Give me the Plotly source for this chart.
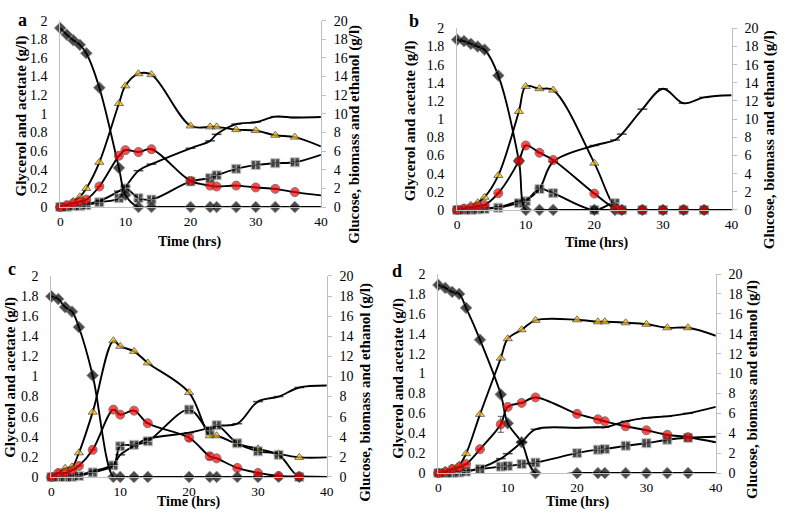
import plotly.graph_objects as go

# ---------------- data ----------------
time_hrs = [0, 1, 2, 3, 4, 6, 9, 10, 12, 14, 20, 23, 24, 27, 30, 33, 36, 40]

# right axis series (g/l): glucose, ethanol, biomass ; left axis series (g/l): glycerol, acetate
glucose_a = [19.2, 18.5, 17.9, 17.4, 16.5, 12.8, 4.2, 1.3, 0, 0, 0, 0, 0, 0, 0, 0, 0, 0]
ethanol_a = [0, 0.2, 0.6, 1.1, 2.0, 4.8, 11.1, 13.0, 14.3, 14.2, 8.7, 8.6, 8.6, 8.3, 8.2, 7.7, 7.5, 6.5]
biomass_a = [0, 0.05, 0.1, 0.2, 0.3, 0.65, 1.7, 2.2, 3.9, 4.6, 6.3, 7.1, 7.8, 8.9, 9.1, 9.7, 9.6, 9.65]
glycerol_a = [0, 0.02, 0.04, 0.06, 0.08, 0.22, 0.55, 0.61, 0.59, 0.62, 0.28, 0.23, 0.22, 0.23, 0.21, 0.195, 0.16, 0.125]
acetate_a = [0, 0, 0.01, 0.01, 0.02, 0.05, 0.095, 0.2, 0.095, 0.08, 0.275, 0.31, 0.34, 0.41, 0.45, 0.47, 0.48, 0.56]
glycerol_err_a = [0] * 18

glucose_b = [18.75, 18.6, 18.3, 18.0, 17.65, 14.8, 5.4, 0, 0, 0, 0, 0, 0, 0, 0, 0, 0, 0]
ethanol_b = [0, 0.2, 0.5, 0.8, 1.4, 3.8, 10.85, 13.6, 13.35, 13.2, 5.15, 0.3, 0, 0, 0, 0, 0, 0]
biomass_b = [0, 0, 0.05, 0.1, 0.2, 0.3, 0.95, 1.07, 2.35, 5.3, 7.1, 7.7, 8.35, 11.1, 13.35, 11.75, 12.4, 12.63]
glycerol_b = [0, 0.015, 0.025, 0.04, 0.055, 0.185, 0.54, 0.71, 0.63, 0.55, 0.18, 0.015, 0, 0, 0, 0, 0, 0]
acetate_b = [0, 0, 0, 0.005, 0.01, 0.025, 0.075, 0.095, 0.23, 0.185, 0, 0.075, 0, 0, 0, 0, 0, 0]
glycerol_err_b = [0] * 18

glucose_c = [17.97, 17.7, 16.9, 16.45, 14.9, 10.1, 0, 0, 0, 0, 0, 0, 0, 0, 0, 0, 0, 0]
ethanol_c = [0, 0.4, 0.87, 1.0, 2.4, 6.45, 13.55, 13.0, 12.5, 11.35, 8.4, 4.1, 4.1, 3.3, 2.8, 2.3, 1.95, 1.95]
biomass_c = [0, 0, 0.05, 0.1, 0.2, 0.55, 1.25, 2.2, 3.1, 3.8, 4.4, 4.9, 5.1, 5.3, 7.5, 8.0, 8.9, 9.1]
glycerol_c = [0, 0.04, 0.04, 0.065, 0.11, 0.27, 0.67, 0.62, 0.66, 0.535, 0.39, 0.205, 0.185, 0.09, 0.04, 0.01, 0.005, 0]
acetate_c = [0, 0, 0, 0, 0.01, 0.045, 0.115, 0.305, 0.32, 0.355, 0.67, 0.46, 0.515, 0.335, 0.255, 0.22, 0, 0]
glycerol_err_c = [0, 0, 0, 0, 0, 0, 0, 0, 0, 0, 0.03, 0.03, 0, 0, 0, 0, 0, 0]

glucose_d = [18.9, 18.6, 18.2, 18.0, 16.6, 13.4, 7.9, 5.0, 3.1, 0, 0, 0, 0, 0, 0, 0, 0, 0]
ethanol_d = [0, 0.3, 0.5, 0.8, 1.95, 5.9, 11.55, 13.5, 14.4, 15.35, 15.4, 15.2, 15.2, 15.1, 14.95, 14.6, 14.6, 13.8]
biomass_d = [0, 0, 0.05, 0.1, 0.2, 0.5, 1.45, 1.95, 3.1, 4.4, 4.55, 4.6, 4.6, 5.2, 5.55, 5.7, 6.0, 6.65]
glycerol_d = [0, 0.01, 0.04, 0.06, 0.09, 0.24, 0.49, 0.665, 0.705, 0.76, 0.595, 0.54, 0.52, 0.47, 0.43, 0.385, 0.36, 0.31]
acetate_d = [0, 0, 0, 0.005, 0.015, 0.04, 0.065, 0.07, 0.09, 0.105, 0.2, 0.235, 0.24, 0.275, 0.30, 0.335, 0.355, 0.365]
glycerol_err_d = [0, 0, 0, 0, 0, 0, 0.08, 0, 0, 0, 0, 0, 0, 0, 0, 0, 0, 0]

panel_labels = ["a", "b", "c", "d"]
x_title = "Time (hrs)"
left_title = "Glycerol and acetate (g/l)"
right_title = "Glucose, biomass and ethanol (g/l)"
x_ticks = [0, 10, 20, 30, 40]
left_range = [0, 2]
right_range = [0, 20]

datasets = [
    (glucose_a, ethanol_a, biomass_a, glycerol_a, acetate_a, glycerol_err_a),
    (glucose_b, ethanol_b, biomass_b, glycerol_b, acetate_b, glycerol_err_b),
    (glucose_c, ethanol_c, biomass_c, glycerol_c, acetate_c, glycerol_err_c),
    (glucose_d, ethanol_d, biomass_d, glycerol_d, acetate_d, glycerol_err_d),
]

# ---------------- layout geometry (pixels) ----------------
W, H = 785, 517
geom = [
    dict(dx=(58, 322), dy=(14, 206), lab=(20, 13), lt=(19, 112), rt=(356, 131), xt=(189, 242)),
    dict(dx=(460, 738), dy=(22, 209), lab=(416, 14), lt=(413, 117), rt=(776, 137), xt=(601, 243)),
    dict(dx=(49, 328), dy=(277, 484), lab=(9, 270), lt=(8, 381), rt=(367, 397), xt=(188, 510)),
    dict(dx=(441, 722), dy=(275, 480), lab=(399, 272), lt=(401, 382), rt=(759, 394), xt=(582, 510)),
]

def fx(p):
    return p / W

def fy(p):
    return 1 - p / H

FONT = "Liberation Serif"
AXIS_GRAY = "#bfbfbf"
scale = (left_range[1] - left_range[0]) / (right_range[1] - right_range[0])

fig = go.Figure()
layout = dict(
    width=W, height=H, margin=dict(l=0, r=0, t=0, b=0, pad=0),
    paper_bgcolor="white", plot_bgcolor="white", showlegend=False,
    font=dict(family=FONT, color="black", size=13),
)
annotations = []

n = len(time_hrs)

def sized(s):
    return [s] * (n - 1) + [0]

def right_to_left(vals):
    return [v * scale for v in vals]

for i, (g, e, bm, gl, ac, gerr) in enumerate(datasets):
    xa = "x" if i == 0 else f"x{i + 1}"
    yl = f"y{2 * i + 1}" if i > 0 else "y"
    yr = f"y{2 * i + 2}"
    line = dict(color="black", width=1.9, shape="spline", smoothing=1)

    # biomass (dash markers)
    fig.add_trace(go.Scatter(x=time_hrs, y=right_to_left(bm), xaxis=xa, yaxis=yl, mode="lines+markers",
                             line=line, cliponaxis=False,
                             marker=dict(symbol="line-ew", size=sized(7),
                                         line=dict(color="black", width=1.5))))
    # ethanol (yellow triangles)
    fig.add_trace(go.Scatter(x=time_hrs, y=right_to_left(e), xaxis=xa, yaxis=yl, mode="lines+markers",
                             line=line, cliponaxis=False,
                             marker=dict(symbol="triangle-up", size=sized(8), color="#FFC000",
                                         line=dict(color="#333333", width=1))))
    # acetate (squares with cross)
    fig.add_trace(go.Scatter(x=time_hrs, y=ac, xaxis=xa, yaxis=yl, mode="lines+markers",
                             line=line, cliponaxis=False,
                             marker=dict(symbol="square-cross", size=sized(9), color="#000000",
                                         line=dict(color="#a6a6a6", width=1))))
    # glucose (black diamonds)
    fig.add_trace(go.Scatter(x=time_hrs, y=right_to_left(g), xaxis=xa, yaxis=yl, mode="lines+markers",
                             line=line, cliponaxis=False,
                             marker=dict(symbol="diamond", size=sized(9), color="black",
                                         line=dict(color="#666666", width=1))))
    # glycerol (red circles)
    fig.add_trace(go.Scatter(x=time_hrs, y=gl, xaxis=xa, yaxis=yl, mode="lines+markers",
                             line=line, cliponaxis=False,
                             error_y=dict(type="data", array=gerr, visible=True, color="#595959",
                                          thickness=1, width=3),
                             marker=dict(symbol="circle", size=sized(9), color="#FF0000",
                                         line=dict(color="#404040", width=1))))
    # empty trace so the right axis is realised
    fig.add_trace(go.Scatter(x=[None], y=[None], xaxis=xa, yaxis=yr, mode="markers",
                             hoverinfo="skip"))

    gm = geom[i]
    xkey = "xaxis" if i == 0 else f"xaxis{i + 1}"
    ylkey = "yaxis" if i == 0 else f"yaxis{2 * i + 1}"
    yrkey = f"yaxis{2 * i + 2}"
    layout[xkey] = dict(domain=[fx(gm["dx"][0]), fx(gm["dx"][1])], anchor=yl, range=[0, 40],
                        tickvals=x_ticks, showgrid=False, zeroline=False, showline=True,
                        linecolor=AXIS_GRAY, linewidth=1, ticks="", ticklabelstandoff=2,
                        tickfont=dict(size=13.5, family=FONT))
    layout[ylkey] = dict(domain=[fy(gm["dy"][1]), fy(gm["dy"][0])], anchor=xa, range=left_range,
                         dtick=0.2, showgrid=False, zeroline=False, showline=True,
                         linecolor=AXIS_GRAY, linewidth=1, ticks="", ticklabelstandoff=9,
                         tickfont=dict(size=14, family=FONT))
    layout[yrkey] = dict(overlaying=yl, anchor=xa, side="right", range=right_range, dtick=2,
                         showgrid=False, zeroline=False, showline=True, linecolor=AXIS_GRAY,
                         linewidth=1, ticks="outside", ticklen=4, tickcolor=AXIS_GRAY,
                         ticklabelstandoff=5, tickfont=dict(size=14, family=FONT))

    annotations.append(dict(text=f"<b>{panel_labels[i]}</b>", x=fx(gm["lab"][0]), y=fy(gm["lab"][1]),
                            xref="paper", yref="paper", showarrow=False,
                            font=dict(size=18, family=FONT), xanchor="center", yanchor="middle"))
    annotations.append(dict(text=f"<b>{left_title}</b>", x=fx(gm["lt"][0]), y=fy(gm["lt"][1]),
                            xref="paper", yref="paper", showarrow=False, textangle=-90,
                            font=dict(size=15, family=FONT), xanchor="center", yanchor="middle"))
    annotations.append(dict(text=f"<b>{right_title}</b>", x=fx(gm["rt"][0]), y=fy(gm["rt"][1]),
                            xref="paper", yref="paper", showarrow=False, textangle=-90,
                            font=dict(size=15, family=FONT), xanchor="center", yanchor="middle"))
    annotations.append(dict(text=f"<b>{x_title}</b>", x=fx(gm["xt"][0]), y=fy(gm["xt"][1]),
                            xref="paper", yref="paper", showarrow=False,
                            font=dict(size=14, family=FONT), xanchor="center", yanchor="middle"))

layout["annotations"] = annotations
fig.update_layout(**layout)
fig.write_html("out.html", config={"displayModeBar": False},
               post_script="document.body.style.margin='0px';")
